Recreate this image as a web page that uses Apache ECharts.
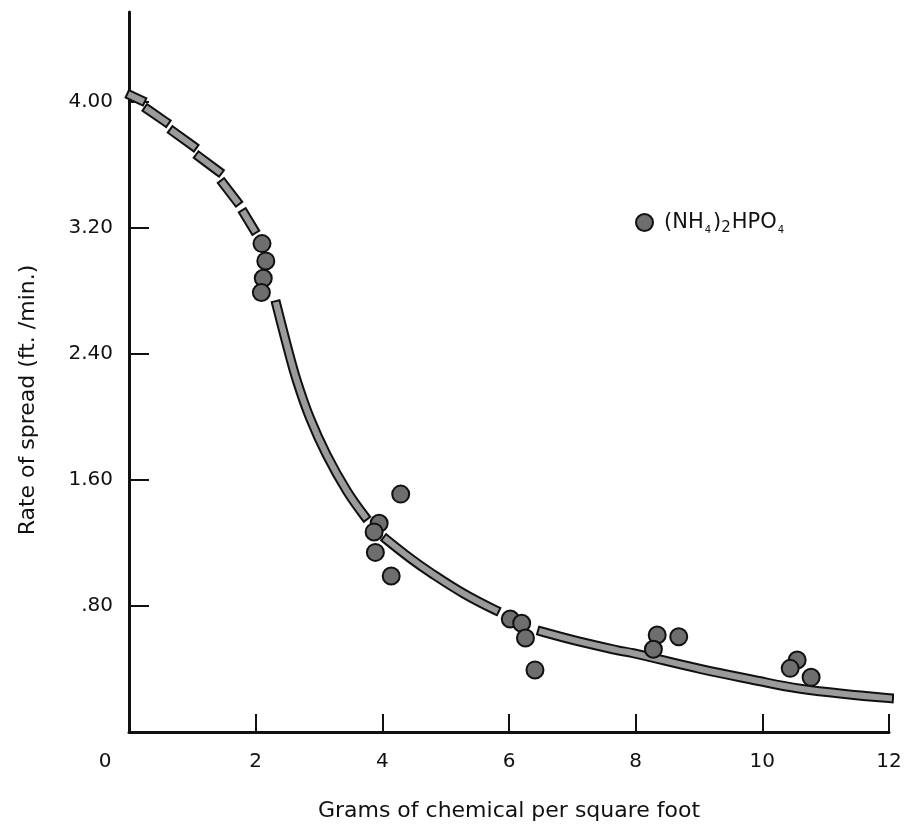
<!DOCTYPE html>
<html>
<head>
<meta charset="utf-8">
<script src="https://cdn.jsdelivr.net/npm/echarts@6/dist/echarts.min.js"></script>
<style>
  html, body { margin: 0; padding: 0; background: #fff; }
  #chart { width: 905px; height: 829px; }
</style>
</head>
<body>
<div id="chart"></div>
<script>
// Measured rate of spread for (NH4)2HPO4
const pointX = [2.10, 2.16, 2.12, 2.09, 4.29, 3.95, 3.87, 3.89, 4.14, 6.02, 6.20, 6.26, 6.41, 8.34, 8.28, 8.68, 10.55, 10.44, 10.77];
const pointY = [3.10, 2.99, 2.88, 2.79, 1.51, 1.325, 1.27, 1.14, 0.99, 0.717, 0.69, 0.597, 0.394, 0.616, 0.525, 0.605, 0.457, 0.404, 0.347];

// Extrapolated (dashed) part of the fitted curve, one pair of ends per dash
const dashX = [[0.03, 0.19], [0.30, 0.57], [0.70, 1.01], [1.11, 1.41], [1.49, 1.70], [1.82, 1.97]];
const dashY = [[4.04, 4.01], [3.95, 3.875], [3.81, 3.72], [3.65, 3.56], [3.48, 3.37], [3.29, 3.19]];

// Fitted curve, broken where the markers sit on it
const curveX = [
  [2.33, 2.49, 2.65, 2.86, 3.12, 3.44, 3.72],
  [4.07, 4.45, 4.75, 5.28, 5.78],
  [6.52, 7.10, 7.70, 7.96, 9.02, 9.81, 10.60, 12.0]
];
const curveY = [
  [2.71, 2.46, 2.23, 1.99, 1.76, 1.53, 1.37],
  [1.22, 1.10, 1.015, 0.88, 0.775],
  [0.637, 0.575, 0.52, 0.50, 0.40, 0.335, 0.275, 0.215]
];

const xTickLabels = [0, 2, 4, 6, 8, 10, 12];
const yTickValues = [0.8, 1.6, 2.4, 3.2, 4.0];
const yTickLabels = ['.80', '1.60', '2.40', '3.20', '4.00'];

const seriesName = '(NH4)2HPO4';
const FONT = 'DejaVu Sans';

// Join pieces into one data list with gaps between them
function joinPieces(xs, ys) {
  const out = [];
  xs.forEach((px, i) => {
    if (i > 0) out.push([px[0], '-']);
    px.forEach((x, j) => out.push([x, ys[i][j]]));
  });
  return out;
}
const dashData = joinPieces(dashX, dashY);
const solidData = joinPieces(curveX, curveY);

function curvePair(data, smooth) {
  const base = {
    type: 'line', data: data, showSymbol: false, smooth: smooth,
    connectNulls: false, silent: true, animation: false
  };
  return [
    Object.assign({}, base, { z: 2, lineStyle: { color: '#111', width: 10, cap: 'square' } }),
    Object.assign({}, base, { z: 3, lineStyle: { color: '#9b9b9b', width: 6, cap: 'square' } })
  ];
}

const chart = echarts.init(document.getElementById('chart'), null, { renderer: 'canvas' });
chart.setOption({
  animation: false,
  backgroundColor: '#fff',
  grid: { left: 129, right: 16, top: 12, bottom: 97 },
  legend: {
    left: 630, top: 207,
    data: [seriesName],
    icon: 'circle', itemWidth: 17, itemHeight: 17,
    formatter: () => '(NH{s4|4}){s2|2}HPO{s4|4}',
    textStyle: {
      fontFamily: FONT, fontSize: 21, color: '#111', padding: [0, 0, 0, 6],
      rich: {
        s4: { fontFamily: FONT, fontSize: 10, color: '#111', padding: [15, 2, 0, 1] },
        s2: { fontFamily: FONT, fontSize: 15, color: '#111', padding: [12, 1, 0, 0] }
      }
    }
  },
  xAxis: {
    type: 'value', min: 0, max: 12, interval: 2,
    name: 'Grams of chemical per square foot',
    nameLocation: 'middle', nameGap: 68,
    nameTextStyle: { fontFamily: FONT, fontSize: 22, color: '#111' },
    axisLine: { lineStyle: { color: '#111', width: 3 } },
    axisTick: { inside: true, length: 18, customValues: xTickLabels.filter(v => v > 0), lineStyle: { color: '#111', width: 2 } },
    axisLabel: {
      margin: 20, fontFamily: FONT, fontSize: 20, color: '#111',
      formatter: v => (v === 0 ? '{o|0}' : String(v)),
      rich: { o: { fontFamily: FONT, fontSize: 20, color: '#111', padding: [0, 48, 0, 0] } }
    },
    splitLine: { show: false }
  },
  yAxis: {
    type: 'value', min: 0, max: 4.57, interval: 0.8,
    name: 'Rate of spread (ft. /min.)',
    nameLocation: 'middle', nameGap: 90,
    nameTextStyle: { fontFamily: FONT, fontSize: 22, color: '#111', padding: [0, 56, 0, 0] },
    axisLine: { lineStyle: { color: '#111', width: 3 } },
    axisTick: { inside: true, length: 20, customValues: yTickValues, lineStyle: { color: '#111', width: 2 } },
    axisLabel: {
      margin: 16, fontFamily: FONT, fontSize: 20, color: '#111',
      customValues: yTickValues,
      formatter: v => {
        const i = yTickValues.findIndex(t => Math.abs(t - v) < 1e-6);
        return i >= 0 ? yTickLabels[i] : '';
      }
    },
    splitLine: { show: false }
  },
  series: [
    ...curvePair(dashData, false),
    ...curvePair(solidData, 0.4),
    {
      name: seriesName,
      type: 'scatter',
      z: 5,
      symbol: 'circle',
      symbolSize: 17,
      data: pointX.map((x, i) => [x, pointY[i]]),
      itemStyle: { color: '#6e6e6e', borderColor: '#111', borderWidth: 2, opacity: 1 }
    }
  ]
});
</script>
</body>
</html>
